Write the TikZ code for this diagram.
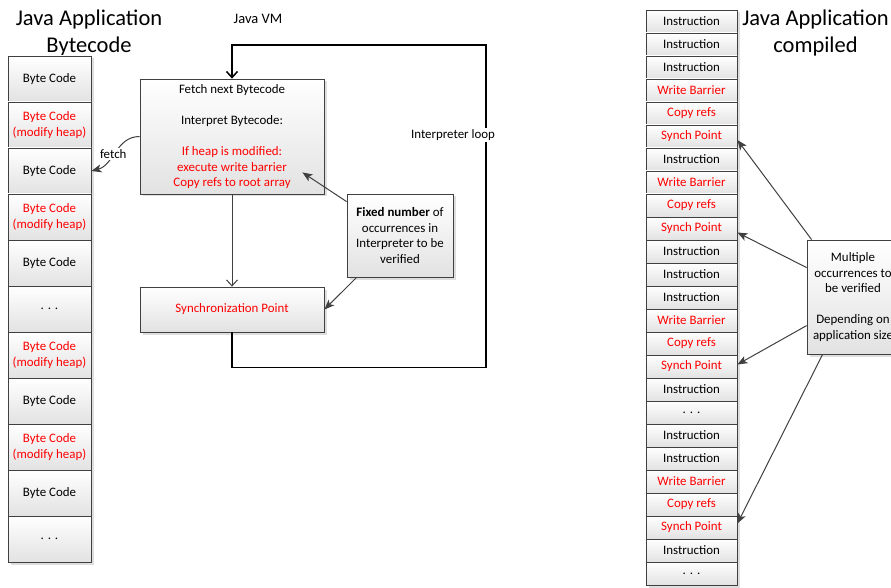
\documentclass[tikz,border=0pt]{standalone}
\usepackage{fontspec}
\setmainfont{Carlito}
\usepackage{tikz}
\usetikzlibrary{arrows.meta,shadows}
\definecolor{linegray}{RGB}{64,64,64}
\definecolor{shadegray}{RGB}{226,226,226}
\newcommand{\cellfont}{\fontsize{12.9}{15.6}\selectfont}
\newcommand{\titlefont}{\fontsize{22.5}{27}\selectfont}

\begin{document}
\begin{tikzpicture}[x=1pt, y=1pt,
  box/.style={draw=linegray, line width=0.8pt, top color=white, bottom color=shadegray, drop shadow={shadow xshift=2.5pt, shadow yshift=-2.5pt, fill=black, opacity=0.13}, inner sep=0pt, align=center, font=\cellfont},
  bytecell/.style={box, minimum width=83pt, minimum height=46pt},
  heapcell/.style={bytecell, text=red},
  instcell/.style={box, minimum width=91pt, minimum height=23pt},
  redcell/.style={instcell, text=red},
  plainlabel/.style={inner sep=0pt, align=center, font=\cellfont},
  bigtitle/.style={inner sep=0pt, align=center, font=\titlefont},
  callout/.style={draw=linegray, line width=1pt, -{Stealth[length=10pt, width=8pt, inset=2.5pt]}},
  flow/.style={draw=linegray, line width=1pt, -{Straight Barb[length=6pt, width=11pt]}},
  loopline/.style={draw=black, line width=1.5pt, -{Straight Barb[length=6pt, width=11pt]}}]
\useasboundingbox (0,0) rectangle (891,-588);
\clip (0,0) rectangle (891,-588);

% bytecode column
\node[bigtitle] (bctitle) at (89,-33) {Java Application\\Bytecode};
\node[bytecell] (b1) at (49.5,-79) {Byte Code};
\node[heapcell] (b2) at (49.5,-125) {Byte Code\\(modify heap)};
\node[bytecell] (b3) at (49.5,-171) {Byte Code};
\node[heapcell] (b4) at (49.5,-217) {Byte Code\\(modify heap)};
\node[bytecell] (b5) at (49.5,-263) {Byte Code};
\node[bytecell] (b6) at (49.5,-309) {. . .};
\node[heapcell] (b7) at (49.5,-355) {Byte Code\\(modify heap)};
\node[bytecell] (b8) at (49.5,-401) {Byte Code};
\node[heapcell] (b9) at (49.5,-447) {Byte Code\\(modify heap)};
\node[bytecell] (b10) at (49.5,-493) {Byte Code};
\node[bytecell] (b11) at (49.5,-539) {. . .};

% interpreter
\node[plainlabel, font=\fontsize{14.5}{17}\selectfont] (vmtitle) at (258,-19) {Java VM};
\node[box, minimum width=184pt, minimum height=115pt] (fetch) at (232,-136.5) {Fetch next Bytecode\\[15.6pt]Interpret Bytecode:\\[15.6pt]\textcolor{red}{If heap is modified:}\\\textcolor{red}{execute write barrier}\\\textcolor{red}{Copy refs to root array}};
\node[box, minimum width=184pt, minimum height=45pt, text=red] (sync) at (232,-309.5) {Synchronization Point};
\node[box, minimum width=106pt, minimum height=83pt] (fixed) at (400,-235.5) {\textbf{Fixed number} of\\occurrences in\\Interpreter to be\\verified};
\coordinate (loopturn) at (486,-45);

\draw[flow] (fetch.south) -- (sync.north);
\draw[loopline] (sync.south) -- ++(0,-35) -| (loopturn) -| (fetch.north);
\node[plainlabel, fill=white, inner sep=1pt] (looplabel) at (453,-135) {Interpreter loop};
\draw[callout] (fetch.west) to[out=180, in=15] node[plainlabel, fill=white, inner sep=1.5pt, pos=0.55] (fetchlabel) {fetch} (b3.east);
\draw[callout] ([yshift=-8pt]fixed.north west) -- ([xshift=-22pt, yshift=22pt]fetch.south east);
\draw[callout] ([xshift=10pt]fixed.south west) -- (sync.east);

% compiled column
\node[bigtitle] (cptitle) at (815.5,-33) {Java Application\\compiled};
\node[instcell] (r1) at (691.5,-21.5) {Instruction};
\node[instcell] (r2) at (691.5,-44.5) {Instruction};
\node[instcell] (r3) at (691.5,-67.5) {Instruction};
\node[redcell] (r4) at (691.5,-90.5) {Write Barrier};
\node[redcell] (r5) at (691.5,-113.5) {Copy refs};
\node[redcell] (r6) at (691.5,-136.5) {Synch Point};
\node[instcell] (r7) at (691.5,-159.5) {Instruction};
\node[redcell] (r8) at (691.5,-182.5) {Write Barrier};
\node[redcell] (r9) at (691.5,-205.5) {Copy refs};
\node[redcell] (r10) at (691.5,-228.5) {Synch Point};
\node[instcell] (r11) at (691.5,-251.5) {Instruction};
\node[instcell] (r12) at (691.5,-274.5) {Instruction};
\node[instcell] (r13) at (691.5,-297.5) {Instruction};
\node[redcell] (r14) at (691.5,-320.5) {Write Barrier};
\node[redcell] (r15) at (691.5,-343.5) {Copy refs};
\node[redcell] (r16) at (691.5,-366.5) {Synch Point};
\node[instcell] (r17) at (691.5,-389.5) {Instruction};
\node[instcell] (r18) at (691.5,-412.5) {. . .};
\node[instcell] (r19) at (691.5,-435.5) {Instruction};
\node[instcell] (r20) at (691.5,-458.5) {Instruction};
\node[redcell] (r21) at (691.5,-481.5) {Write Barrier};
\node[redcell] (r22) at (691.5,-504.5) {Copy refs};
\node[redcell] (r23) at (691.5,-527.5) {Synch Point};
\node[instcell] (r24) at (691.5,-550.5) {Instruction};
\node[instcell] (r25) at (691.5,-573.5) {. . .};

\node[box, minimum width=92pt, minimum height=114pt] (multi) at (853,-297) {Multiple\\occurrences to\\be verified\\[15.4pt]Depending on\\application size};
\draw[callout] ([xshift=5pt]multi.north west) -- ([yshift=-3.5pt]r6.east);
\draw[callout] ([yshift=-28pt]multi.north west) -- ([yshift=-4pt]r10.east);
\draw[callout] ([yshift=-86pt]multi.north west) -- ([yshift=2pt]r16.east);
\draw[callout] ([xshift=16pt]multi.south west) -- ([yshift=4pt]r23.east);
\end{tikzpicture}
\end{document}
